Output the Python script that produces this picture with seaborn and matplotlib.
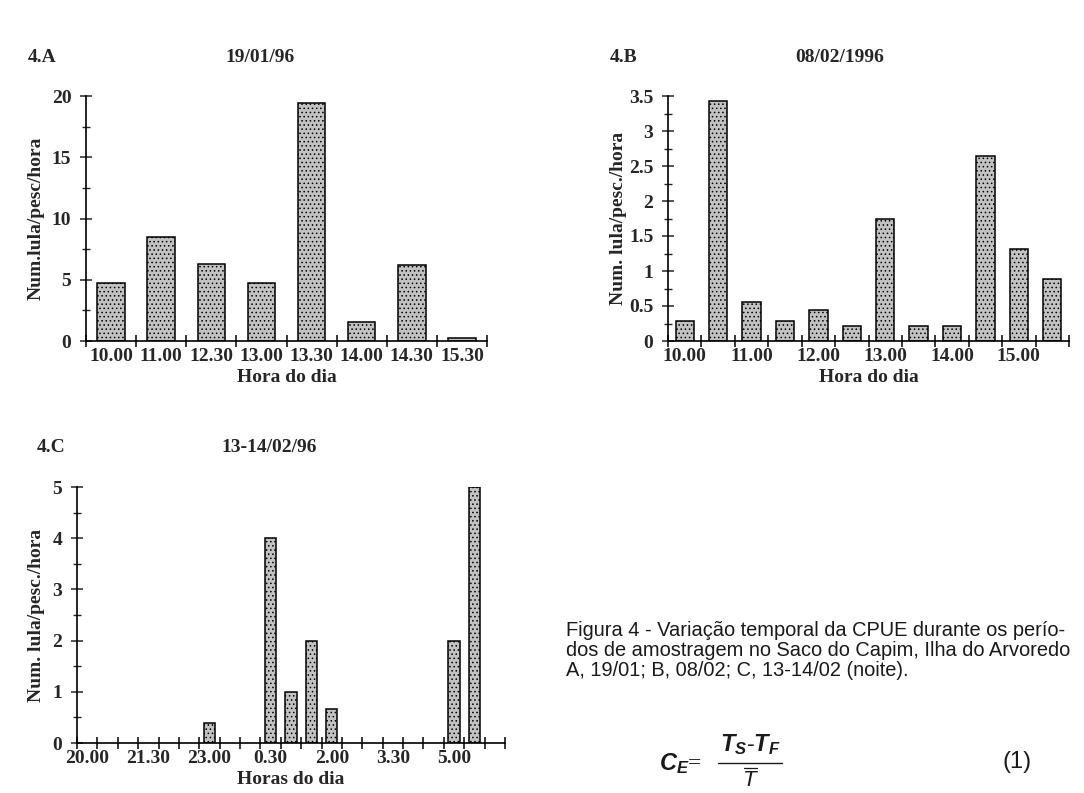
import numpy as np
import matplotlib
matplotlib.use("Agg")
import matplotlib.pyplot as plt
import seaborn as sns
from matplotlib.ticker import MultipleLocator

# ---------------- data ----------------
A_hours = ["10.00", "11.00", "12.30", "13.00", "13.30", "14.00", "14.30", "15.30"]
A_vals = [4.7, 8.45, 6.3, 4.7, 19.45, 1.55, 6.2, 0.27]

B_hours = ["10.00", "10.30", "11.00", "11.30", "12.00", "12.30",
           "13.00", "13.30", "14.00", "14.30", "15.00", "15.30"]
B_vals = [0.28, 3.43, 0.56, 0.28, 0.44, 0.22, 1.75, 0.22, 0.22, 2.65, 1.32, 0.89]
B_ticklabels = ["10.00", "", "11.00", "", "12.00", "", "13.00", "", "14.00", "", "15.00", ""]

C_slots = ["20.00", "20.30", "21.00", "21.30", "22.00", "22.30", "23.00", "23.30",
           "0.00", "0.30", "1.00", "1.30", "2.00", "2.30", "3.00", "3.30",
           "4.00", "4.30", "5.00", "5.30", "6.00"]
C_hours = ["23.00", "0.30", "1.00", "1.30", "2.00", "5.00", "5.30"]
C_vals = [0.4, 4.0, 1.0, 2.0, 0.66, 2.0, 5.0]
C_ticklabels = ["20.00", "", "", "21.30", "", "", "23.00", "", "", "0.30", "", "",
                "2.00", "", "", "3.30", "", "", "5.00", "", ""]

caption_lines = ["Figura 4 - Variação temporal da CPUE durante os perío-",
                 "dos de amostragem no Saco do Capim, Ilha do Arvoredo",
                 "A, 19/01; B, 08/02; C, 13-14/02 (noite)."]

# ---------------- style ----------------
sns.set_theme(style="ticks")
plt.rcParams["font.family"] = ["Liberation Serif", "DejaVu Serif"]
plt.rcParams["font.weight"] = "bold"
plt.rcParams["axes.labelweight"] = "bold"
plt.rcParams["hatch.linewidth"] = 0.6
plt.rcParams["mathtext.fontset"] = "custom"
plt.rcParams["mathtext.it"] = "Liberation Sans:italic"
plt.rcParams["mathtext.rm"] = "Liberation Sans"

W, H = 1084, 793
fig = plt.figure(figsize=(W / 100, H / 100), dpi=100, facecolor="white")

BAR = "#c2c2c2"
FS = 14
INK = "#1a1a1a"


def px_axes(left, right, top, bottom):
    return fig.add_axes([left / W, 1 - bottom / H, (right - left) / W, (bottom - top) / H])


def panel(ax, cats, vals, order, ticklabels, ymax, ymaj, ymin, ylabel, xlabel, ylab_x):
    sns.barplot(x=cats, y=vals, order=order, color=BAR, saturation=1, width=0.55,
                edgecolor="black", linewidth=1.1, hatch="....", ax=ax)
    n = len(order)
    ax.set_xlim(-0.5, n - 0.5)
    ax.set_ylim(0, ymax)
    ax.set_xticks(np.arange(n))
    ax.set_xticklabels(ticklabels)
    ax.set_xticks(np.arange(-0.5, n), minor=True)
    ax.tick_params(axis="x", which="major", length=0, pad=5, labelsize=FS)
    ax.tick_params(axis="x", which="minor", direction="inout", length=9, width=1.1, color="black")
    yt = np.arange(0, ymax + 1e-9, ymaj)
    ax.set_yticks(yt)
    ax.set_yticklabels([f"{v:g}" for v in yt])
    ax.yaxis.set_minor_locator(MultipleLocator(ymin))
    ax.tick_params(axis="y", which="major", direction="inout", length=9, width=1.1, pad=6, labelsize=FS)
    ax.tick_params(axis="y", which="minor", direction="inout", length=6, width=1.0)
    for lab in ax.get_xticklabels() + ax.get_yticklabels():
        lab.set_fontweight("bold")
    sns.despine(ax=ax)
    for s in ("left", "bottom"):
        ax.spines[s].set_linewidth(1.2)
        ax.spines[s].set_color("black")
    ax.set_facecolor("none")
    ax.set_xlabel(xlabel, fontsize=FS, fontweight="bold", labelpad=3)
    ax.set_ylabel(ylabel, fontsize=FS, fontweight="bold")
    ax.yaxis.set_label_coords(ylab_x, 0.5)


axA = px_axes(86, 487, 96, 341)
panel(axA, A_hours, A_vals, A_hours, A_hours, 20, 5, 2.5,
      "Num.lula/pesc/hora", "Hora do dia", -0.102)

axB = px_axes(668, 1069, 96, 341)
panel(axB, B_hours, B_vals, B_hours, B_ticklabels, 3.5, 0.5, 0.25,
      "Num. lula/pesc./hora", "Hora do dia", -0.102)

axC = px_axes(77, 505, 487, 743)
panel(axC, C_hours, C_vals, C_slots, C_ticklabels, 5, 1, 0.5,
      "Num. lula/pesc./hora", "Horas do dia", -0.075)


def ftext(x, y, s, **kw):
    return fig.text(x / W, 1 - y / H, s, va="center", **kw)


def fline(x0, x1, y, lw=1.0):
    fig.add_artist(plt.Line2D([x0 / W, x1 / W], [1 - y / H, 1 - y / H], color=INK, linewidth=lw))


ftext(28, 57, "4.A", ha="left", fontsize=FS, fontweight="bold")
ftext(260, 57, "19/01/96", ha="center", fontsize=FS, fontweight="bold")
ftext(610, 58, "4.B", ha="left", fontsize=FS, fontweight="bold")
ftext(840, 58, "08/02/1996", ha="center", fontsize=FS, fontweight="bold")
ftext(37, 447, "4.C", ha="left", fontsize=FS, fontweight="bold")
ftext(269, 447, "13-14/02/96", ha="center", fontsize=FS, fontweight="bold")

SANS = ["Liberation Sans", "DejaVu Sans"]
for i, line in enumerate(caption_lines):
    ftext(566, 630 + 20 * i, line, ha="left", fontsize=14.4, fontweight="normal",
          family=SANS, color=INK)

# equation (1)
ftext(659, 764, r"$C_E$=", ha="left", fontsize=17, fontweight="normal", color=INK)
ftext(750, 745, r"$T_S$-$T_F$", ha="center", fontsize=17, fontweight="normal",
      family=SANS, color=INK)
fline(718, 782, 763)
fline(744, 757, 767.5, lw=0.9)
ftext(750, 780, "T", ha="center", fontsize=16, fontweight="normal", style="italic",
      family=SANS, color=INK)
ftext(1002, 762, "(1)", ha="left", fontsize=17, fontweight="normal",
      family=SANS, color=INK)

fig.savefig("out.png", dpi=100, facecolor="white")
